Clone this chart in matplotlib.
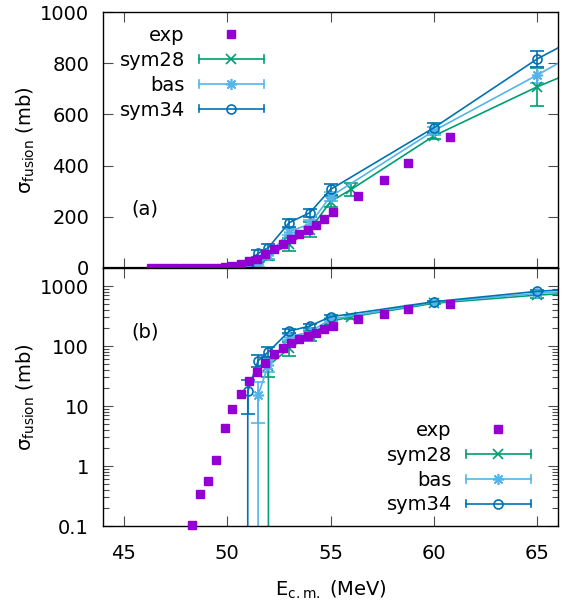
import matplotlib
matplotlib.use('Agg')
import matplotlib.pyplot as plt
import numpy as np
from matplotlib.lines import Line2D
from matplotlib.legend_handler import HandlerBase
from matplotlib.ticker import FixedLocator, FixedFormatter, LogLocator, NullFormatter

plt.rcParams['font.family'] = ['DejaVu Sans']
plt.rcParams['font.size'] = 14
plt.rcParams['mathtext.fontset'] = 'dejavusans'

# ---------------- data ----------------
exp_E = [46.3, 46.7, 47.1, 47.5, 47.9, 48.3, 48.7, 49.1, 49.45, 49.9, 50.25, 50.65,
         51.05, 51.45, 51.85, 52.25, 52.7, 53.1, 53.5, 53.9, 54.3, 54.7, 55.1,
         56.35, 57.6, 58.75, 60.8]
exp_sigma = [0.003, 0.007, 0.015, 0.03, 0.06, 0.105, 0.34, 0.56, 1.26, 4.25, 8.8, 15.8,
             26, 36.4, 53, 73, 92, 112, 133, 148, 168, 190, 220,
             282, 345, 412, 510]

sym28_E = [50.5, 51.0, 51.5, 52.0, 53.0, 54.0, 55.0, 56.0, 60.0, 65.0, 70.0]
sym28_sigma = [0, 0, 0, 47, 92, 150, 259, 307, 516, 708, 875]
sym28_err = [0, 0, 0, 17, 24, 29, 22, 24, 12, 75, 0]

bas_E = [50.5, 51.0, 51.5, 52.0, 53.0, 54.0, 55.0, 60.0, 65.0, 70.0]
bas_sigma = [0, 0, 15.2, 49, 142, 172, 279, 536, 754, 980]
bas_err = [0, 0, 10, 12, 15, 15, 18, 15, 30, 0]

sym34_E = [50.5, 51.0, 51.5, 52.0, 53.0, 54.0, 55.0, 60.0, 65.0, 70.0]
sym34_sigma = [0, 17.5, 57, 80, 177, 216, 307, 548, 817, 1030]
sym34_err = [0, 10, 13, 15, 15, 16, 20, 19, 31, 0]

series_labels = ['exp', 'sym28', 'bas', 'sym34']
xticks = [45, 50, 55, 60, 65]
lin_yticks = [0, 200, 400, 600, 800, 1000]
log_yticks = [0.1, 1, 10, 100, 1000]
log_yticklabels = ['0.1', '1', '10', '100', '1000']

# ---------------- style ----------------
c_exp = '#9400d3'
c_sym28 = '#009e73'
c_bas = '#56b4e9'
c_sym34 = '#0072b2'
LW = 1.2
models = [
    (sym28_E, sym28_sigma, sym28_err, c_sym28, 'x', 6.5, c_sym28),
    (bas_E, bas_sigma, bas_err, c_bas, (8, 2, 0), 8, c_bas),
    (sym34_E, sym34_sigma, sym34_err, c_sym34, 'o', 6.5, 'none'),
]


class GnuHandler(HandlerBase):
    def create_artists(self, legend, orig, xdescent, ydescent, width, height,
                       fontsize, trans):
        y = height / 2.0 - ydescent
        x0 = -xdescent
        x1 = x0 + width
        xm = 0.5 * (x0 + x1)
        arts = []
        color = orig.get_color()
        if orig.get_linestyle() not in ('None', 'none', '', ' '):
            lw = orig.get_linewidth()
            cap = 0.27 * height
            arts.append(Line2D([x0, x1], [y, y], color=color, lw=lw))
            arts.append(Line2D([x0, x0], [y - cap, y + cap], color=color, lw=lw))
            arts.append(Line2D([x1, x1], [y - cap, y + cap], color=color, lw=lw))
        arts.append(Line2D([xm], [y], linestyle='None', marker=orig.get_marker(),
                           markersize=orig.get_markersize(),
                           markerfacecolor=orig.get_markerfacecolor(),
                           markeredgecolor=orig.get_markeredgecolor(),
                           markeredgewidth=orig.get_markeredgewidth()))
        for a in arts:
            a.set_transform(trans)
        return arts


W, H = 574, 605
fig = plt.figure(figsize=(W / 100, H / 100), dpi=100)


def box(l, t, r, b):
    return [l / W, 1 - b / H, (r - l) / W, (b - t) / H]


ax1 = fig.add_axes(box(103, 12, 558, 268))
ax2 = fig.add_axes(box(103, 268, 558, 526))

for ax, log in ((ax1, False), (ax2, True)):
    if log:
        ax.set_yscale('log')
    for E, s, e, c, m, ms, mfc in models:
        ax.errorbar(E, s, yerr=e, color=c, marker=m, ms=ms, mfc=mfc, mec=c,
                    mew=1.2, lw=LW, elinewidth=LW, capsize=5, capthick=LW, zorder=2)
    ex = np.array(exp_E)
    es = np.array(exp_sigma)
    if log:
        mask = es >= 0.1
        ax.plot(ex[mask], es[mask], 's', color=c_exp, ms=6, clip_on=False, zorder=4)
    else:
        ax.plot(ex, es, 's', color=c_exp, ms=6, clip_on=False, zorder=4)
    ax.set_xlim(44, 66)
    ax.set_xticks(xticks)
    ax.tick_params(which='both', direction='in', top=True, right=True,
                   color='0.3', width=0.8, labelsize=14)
    ax.tick_params(which='major', length=7)
    ax.tick_params(which='minor', length=4)
    ax.tick_params(axis='y', pad=10)
    ax.tick_params(axis='x', pad=13)
    for sp in ax.spines.values():
        sp.set_linewidth(1.0)

ax1.set_ylim(0, 1000)
ax1.set_yticks(lin_yticks)
ax1.tick_params(labelbottom=False)
ax1.axhline(0, color='k', lw=1.6, zorder=3)

ax2.set_ylim(0.1, 2000)
ax2.yaxis.set_major_locator(FixedLocator(log_yticks))
ax2.yaxis.set_major_formatter(FixedFormatter(log_yticklabels))
ax2.yaxis.set_minor_locator(LogLocator(base=10, subs=np.arange(2, 10)))
ax2.yaxis.set_minor_formatter(NullFormatter())

ylab = 'σ$_{\\mathregular{fusion}}$ (mb)'
ax1.set_ylabel(ylab, fontsize=14)
ax2.set_ylabel(ylab, fontsize=14)
ax1.yaxis.set_label_coords(-0.145, 0.5)
ax2.yaxis.set_label_coords(-0.145, 0.5)
ax2.set_xlabel('E$_{\\mathregular{c.m.}}$ (MeV)', fontsize=14)
ax2.xaxis.set_label_coords(0.5, -0.205)

ax1.text(0.0615, 0.23, '(a)', transform=ax1.transAxes, ha='left', va='center', fontsize=14)
ax2.text(0.0615, 0.752, '(b)', transform=ax2.transAxes, ha='left', va='center', fontsize=14)

proxies = [
    Line2D([], [], linestyle='None', marker='s', ms=6, color=c_exp, mfc=c_exp, mec=c_exp),
    Line2D([], [], color=c_sym28, lw=LW, marker='x', ms=6.5, mfc=c_sym28, mec=c_sym28, mew=1.2),
    Line2D([], [], color=c_bas, lw=LW, marker=(8, 2, 0), ms=8, mfc=c_bas, mec=c_bas, mew=1.2),
    Line2D([], [], color=c_sym34, lw=LW, marker='o', ms=6.5, mfc='none', mec=c_sym34, mew=1.2),
]

leg_kw = dict(handler_map={Line2D: GnuHandler()}, loc='upper right',
              bbox_transform=fig.transFigure, frameon=False, markerfirst=False,
              borderpad=0, borderaxespad=0, handlelength=3.35, handletextpad=0.72,
              labelspacing=0.3, fontsize=14)
leg1 = ax1.legend(proxies, series_labels, bbox_to_anchor=(264 / W, 1 - 26 / H), **leg_kw)
leg2 = ax2.legend(proxies, series_labels, bbox_to_anchor=(531 / W, 1 - 421 / H), **leg_kw)

fig.savefig('out.png', dpi=100)
